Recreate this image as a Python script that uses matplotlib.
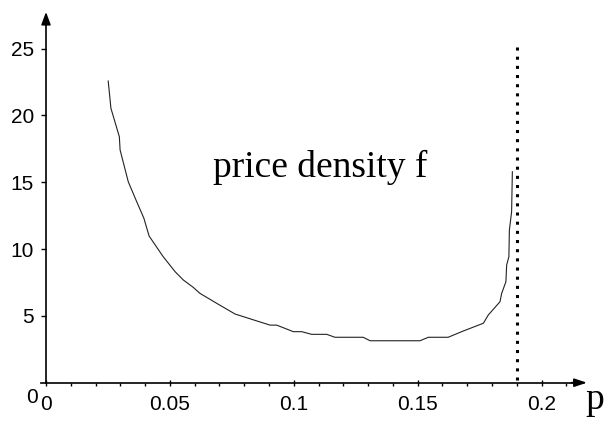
import matplotlib
matplotlib.use("Agg")
import matplotlib.pyplot as plt
import numpy as np

# price grid and density values
price = [0.0251, 0.0262, 0.0296, 0.0299, 0.0332, 0.0363, 0.0395, 0.0416, 0.0473,
         0.0521, 0.0554, 0.0594, 0.0621, 0.0689, 0.0763, 0.0904, 0.0931, 0.0998,
         0.1032, 0.1072, 0.1133, 0.1166, 0.1280, 0.1308, 0.1509, 0.1543, 0.1623,
         0.1684, 0.1765, 0.1785, 0.1832, 0.1839, 0.1856, 0.1859, 0.1868, 0.1870,
         0.1879, 0.1882]
density = [22.58, 20.54, 18.41, 17.42, 15.04, 13.68, 12.31, 10.98, 9.43,
           8.31, 7.69, 7.14, 6.69, 5.94, 5.14, 4.31, 4.31, 3.82,
           3.82, 3.62, 3.62, 3.40, 3.40, 3.14, 3.14, 3.40, 3.40,
           3.87, 4.45, 5.07, 6.06, 6.69, 7.56, 8.81, 9.43, 11.43,
           12.80, 15.79]
upper_bound = 0.19
x_ticks = [0, 0.05, 0.1, 0.15, 0.2]
x_labels = ["0", "0.05", "0.1", "0.15", "0.2"]
y_ticks = [5, 10, 15, 20, 25]
y_labels = ["5", "10", "15", "20", "25"]

W, H = 606, 423
fig = plt.figure(figsize=(W / 100, H / 100), dpi=100)
ax = fig.add_axes([0, 0, 1, 1])
ax.patch.set_alpha(0)

# pixel mapping: p=0 at x=46, 2478 px per unit; f=0 at y=382.7, 13.36 px per unit
ax.set_xlim(-46 / 2478, (W - 46) / 2478)
ax.set_ylim((382.7 - H) / 13.36, 382.7 / 13.36)

for s in ["top", "right"]:
    ax.spines[s].set_visible(False)
ax.spines["bottom"].set_position(("data", 0))
ax.spines["left"].set_position(("data", 0))
ax.spines["bottom"].set_bounds(-0.0022, 0.213)
ax.spines["left"].set_bounds(0, 27.0)
for s in ["bottom", "left"]:
    ax.spines[s].set_linewidth(1.2)

ax.annotate('', xy=(0.2183, 0), xytext=(0.212, 0),
            arrowprops=dict(arrowstyle='-|>,head_length=0.75,head_width=0.25',
                            color='black', lw=1.2, shrinkA=0, shrinkB=0))
ax.annotate('', xy=(0, 27.75), xytext=(0, 26.8),
            arrowprops=dict(arrowstyle='-|>,head_length=0.75,head_width=0.28',
                            color='black', lw=1.2, shrinkA=0, shrinkB=0))

tickfont = dict(family="Liberation Sans", size=15)
ax.set_xticks(x_ticks)
ax.set_xticklabels(x_labels, fontdict=tickfont)
ax.set_xticks(np.arange(1, 22) / 100.0, minor=True)
ax.set_yticks(y_ticks)
ax.set_yticklabels(y_labels, fontdict=tickfont)
ax.tick_params(axis='x', which='major', direction='inout', length=4.4, width=1.0, pad=6.7)
ax.tick_params(axis='x', which='minor', direction='out', length=2.2, width=1.0)
ax.tick_params(axis='y', which='major', direction='out', length=3.6, width=1.0, pad=5)
ax.tick_params(axis='y', which='minor', left=False)

ax.text(-0.00577, -1.108, "0", ha='center', va='center', **{'family': 'Liberation Sans', 'size': 15})

ax.plot(price, density, color='#222222', lw=0.8)
ax.plot([upper_bound, upper_bound], [25.1, 0], color='black', lw=2.2,
        linestyle=(0, (1, 2)))

ax.text(0.11045, 15.42, "price density f", ha='center', va='baseline',
        family="Liberation Serif", size=27)
ax.text(0.2215, -1.97, "p", ha='center', va='baseline',
        family="Liberation Serif", size=27)

fig.savefig("out.png", dpi=100)
